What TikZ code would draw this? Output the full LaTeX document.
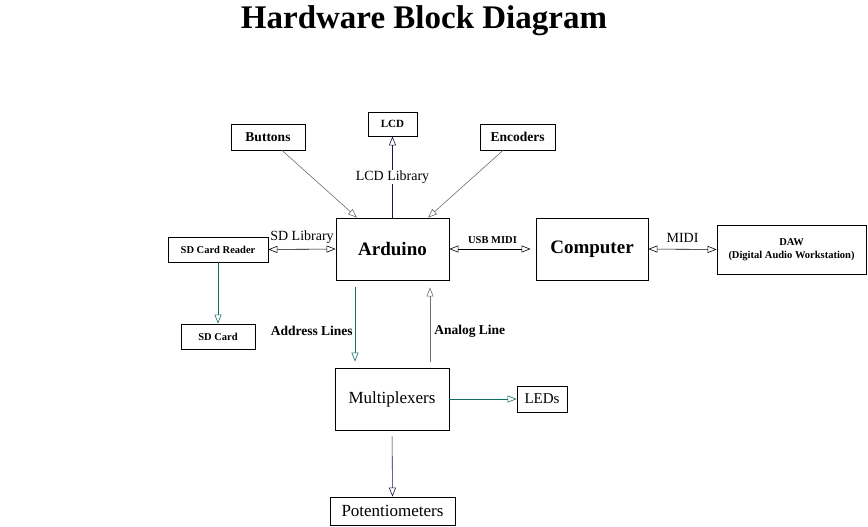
\documentclass[tikz,border=0pt]{standalone}
\usepackage{fontspec}
\setmainfont{Liberation Serif}
\usetikzlibrary{positioning, shapes, arrows.meta}

\definecolor{wireteal}{RGB}{20,110,95}
\definecolor{wiregray}{RGB}{105,110,110}
\definecolor{wirenavy}{RGB}{20,25,70}

\tikzset{
  block/.style={draw, line width=0.8pt, inner sep=0pt, align=center},
  link/.style={line width=0.6pt, -{Triangle[open,length=9pt,width=7pt]}},
  both/.style={line width=0.6pt, {Triangle[open,length=9pt,width=7pt]}-{Triangle[open,length=9pt,width=7pt]}},
  tag/.style={inner sep=1pt, text=black}
}

\begin{document}
\begin{tikzpicture}[x=1pt, y=-1pt]
  \useasboundingbox (0,0) rectangle (868,527);
  \node[font=\fontsize{33}{36}\selectfont\bfseries] (title) at (424,21) {Hardware Block Diagram};

  \node[block, minimum width=74, minimum height=26, font=\fontsize{13.5}{15}\selectfont\bfseries] (buttons) at (268,137) {Buttons};
  \node[block, minimum width=49, minimum height=24, font=\fontsize{11}{12}\selectfont\bfseries] (lcd) at (392.5,124) {LCD};
  \node[block, minimum width=75, minimum height=26, font=\fontsize{13.5}{15}\selectfont\bfseries] (encoders) at (517.5,137) {Encoders};
  \node[block, minimum width=113, minimum height=62, font=\fontsize{19}{21}\selectfont\bfseries] (arduino) at (392.5,249) {Arduino};
  \node[block, minimum width=112, minimum height=62, font=\fontsize{19}{21}\selectfont\bfseries] (computer) at (592,249) {Computer};
  \node[block, minimum width=149, minimum height=49, font=\fontsize{10.5}{12.5}\selectfont\bfseries] (daw) at (791.5,249.5) {DAW\\(Digital Audio Workstation)};
  \node[block, minimum width=100, minimum height=25, font=\fontsize{10.5}{12}\selectfont\bfseries] (reader) at (218,249.5) {SD Card Reader};
  \node[block, minimum width=74, minimum height=25, font=\fontsize{10.5}{12}\selectfont\bfseries] (card) at (218,336.5) {SD Card};
  \node[block, minimum width=114, minimum height=62, font=\fontsize{17}{19}\selectfont] (mux) at (392,399) {Multiplexers};
  \node[block, minimum width=50, minimum height=26, font=\fontsize{15}{17}\selectfont] (leds) at (542,399) {LEDs};
  \node[block, minimum width=125, minimum height=28, font=\fontsize{17}{19}\selectfont] (pots) at (392.5,511) {Potentiometers};

  \draw[link, wiregray] ([xshift=14]buttons.south) -- ([xshift=-35.5]arduino.north);
  \draw[link, wiregray] ([xshift=-14.5]encoders.south) -- ([xshift=35.5]arduino.north);
  \draw[link, wirenavy] (arduino.north) -- node[tag, fill=white, font=\fontsize{14}{16}\selectfont] {LCD Library} (lcd.south);
  \draw[both] (reader.east) -- node[tag, above=4pt, font=\fontsize{14}{16}\selectfont] {SD Library} (arduino.west);
  \draw[both, shorten >=5pt] (arduino.east) -- node[tag, above=4pt, font=\fontsize{10.5}{12}\selectfont\bfseries] {USB MIDI} (computer.west);
  \draw[both] (computer.east) -- node[tag, above=5pt, font=\fontsize{14}{16}\selectfont] {MIDI} (daw.west);
  \draw[link, wireteal] (reader) -- (card);
  \draw[link, wireteal, shorten <=7pt, shorten >=6pt] ([xshift=-37.5]arduino.south) -- node[tag, left=1pt, yshift=-7pt, font=\fontsize{13.5}{15}\selectfont\bfseries] {Address Lines} ([xshift=-37]mux.north);
  \draw[link, wiregray, shorten <=6pt, shorten >=7pt] ([xshift=38]mux.north) -- node[tag, right=3pt, yshift=-7pt, font=\fontsize{13.5}{15}\selectfont\bfseries] {Analog Line} ([xshift=37.5]arduino.south);
  \draw[link, wireteal] (mux) -- (leds);
  \draw[link, wirenavy, shorten <=6pt] (mux.south) -- (pots.north);
\end{tikzpicture}
\end{document}
